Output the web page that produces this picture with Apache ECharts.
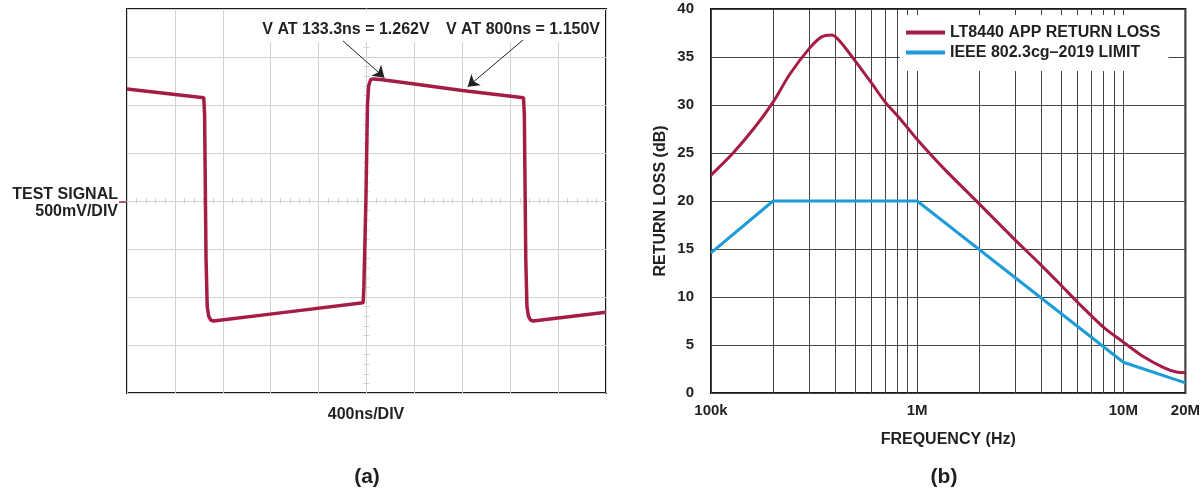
<!DOCTYPE html>
<html>
<head>
<meta charset="utf-8">
<script src="https://cdn.jsdelivr.net/npm/echarts@6/dist/echarts.min.js"></script>
<style>
  html, body { margin: 0; padding: 0; background: #fff; }
  #main { width: 1203px; height: 489px; }
</style>
</head>
<body>
<div id="main"></div>
<script>
// (a) scope trace: time from screen centre (ns), volts
var timeNs = [-2000, -1359, -1352, -1340, -1330, -1318, -1300, -1277, -650, -28, -22, -5, 8, 18, 35, 60, 133.3, 400, 800, 1311, 1318, 1330, 1340, 1352, 1370, 1392, 2000];
var volts  = [1.167, 1.076, 0.9, -0.6, -1.1, -1.2, -1.24, -1.25, -1.155, -1.06, -0.9, 0.0, 1.0, 1.2, 1.265, 1.272, 1.262, 1.219, 1.150, 1.076, 0.9, -0.6, -1.1, -1.2, -1.24, -1.25, -1.16];

// (b) return loss
var lossFreq = [1e5, 1.28e5, 1.62e5, 2e5, 2.41e5, 3e5, 3.44e5, 3.85e5, 4.2e5, 5e5, 6e5, 7e5, 8e5, 9e5, 1e6, 1.33e6, 2e6, 3e6, 4e6, 5e6, 6e6, 8e6, 1e7, 1.26e7, 1.55e7, 1.81e7, 2e7];
var lossDb   = [22.7, 25.0, 27.6, 30.3, 33.2, 35.9, 37.1, 37.3, 36.7, 34.6, 32.3, 30.3, 28.9, 27.6, 26.4, 23.5, 19.7, 15.9, 13.3, 11.2, 9.45, 6.86, 5.3, 3.74, 2.7, 2.18, 2.12];
var limitFreq = [1e5, 2e5, 1e6, 1e7, 2e7];
var limitDb   = [14.6, 20, 20, 3.2, 1.05];
var minorFreqs = [2e5, 3e5, 4e5, 5e5, 6e5, 7e5, 8e5, 9e5, 2e6, 3e6, 4e6, 5e6, 6e6, 7e6, 8e6, 9e6];

var RED = '#a51c45';
var BLUE = '#1e9cd7';
var TXT = '#231f20';
var FONT = '"Liberation Sans", Arial, sans-serif';
var scopeGrid = '#d2d2d2';

var myChart = echarts.init(document.getElementById('main'));

function zip(xs, ys) {
    return xs.map(function(x, i) { return [x, ys[i]]; });
}

function freqLabel(v) {
    if (v >= 1e6) return Math.round(v / 1e6) + 'M';
    return Math.round(v / 1e3) + 'k';
}

// scope centre-line axis (ticks only, no labels)
function scopeAxis(extra) {
    var ax = {
        gridIndex: 0,
        type: 'value',
        axisLine: { onZero: true, lineStyle: { color: scopeGrid, width: 1 } },
        axisTick: { show: false, inside: true },
        minorTick: { show: true, splitNumber: 5, length: 3, lineStyle: { color: scopeGrid } },
        axisLabel: { show: false },
        splitLine: { show: false }
    };
    return Object.assign(ax, extra);
}

function label(txt, x, y, size, align) {
    return {
        type: 'text', x: x, y: y, z: 10,
        style: { text: txt, fill: TXT, font: 'bold ' + size + 'px ' + FONT, align: align || 'center', verticalAlign: 'middle' }
    };
}

var option = {
    animation: false,
    textStyle: { fontFamily: FONT },
    grid: [
        { left: 127, top: 9, width: 479, height: 384, show: true, borderColor: '#1a1a1a', borderWidth: 2 },
        { left: 711, top: 9, width: 481, height: 384, show: true, borderColor: '#1a1a1a', borderWidth: 2 }
    ],
    legend: {
        data: ['LT8440 APP RETURN LOSS', 'IEEE 802.3cg\u20132019 LIMIT'],
        orient: 'vertical',
        left: 900,
        top: 15,
        backgroundColor: '#fff',
        padding: [9, 8, 10, 6],
        itemWidth: 39,
        itemHeight: 4,
        itemGap: 3,
        icon: 'rect',
        textStyle: { fontSize: 16, fontWeight: 'bold', color: TXT, lineHeight: 17, fontFamily: FONT }
    },
    xAxis: [
        scopeAxis({ min: -2000, max: 2000, interval: 400, position: 'bottom',
            splitLine: { show: true, lineStyle: { color: scopeGrid, width: 1 } } }),
        scopeAxis({ min: -2000, max: 2000, interval: 400, position: 'top' }),
        {
            gridIndex: 1,
            type: 'log',
            logBase: 10,
            min: 1e5,
            max: 2e7,
            axisLine: { show: false },
            axisTick: { show: false },
            axisLabel: {
                formatter: freqLabel, color: TXT, fontSize: 15, fontWeight: 'bold', margin: 10,
                showMinLabel: true, showMaxLabel: true
            },
            splitLine: { show: true, lineStyle: { color: '#444', width: 1 } },
            name: 'FREQUENCY (Hz)',
            nameLocation: 'middle',
            nameGap: 39,
            nameTextStyle: { color: TXT, fontSize: 16, fontWeight: 'bold' }
        }
    ],
    yAxis: [
        scopeAxis({ min: -2, max: 2, interval: 0.5, position: 'left',
            splitLine: { show: true, lineStyle: { color: scopeGrid, width: 1 } } }),
        scopeAxis({ min: -2, max: 2, interval: 0.5, position: 'right' }),
        {
            gridIndex: 1,
            type: 'value',
            min: 0,
            max: 40,
            interval: 5,
            axisLine: { show: false },
            axisTick: { show: false },
            axisLabel: { color: TXT, fontSize: 15, fontWeight: 'bold', margin: 17, padding: [5, 0, 0, 0] },
            splitLine: { show: true, lineStyle: { color: '#444', width: 1 } },
            name: 'RETURN LOSS (dB)',
            nameLocation: 'middle',
            nameGap: 42,
            nameTextStyle: { color: TXT, fontSize: 16, fontWeight: 'bold' }
        }
    ],
    series: [
        {
            name: 'TEST SIGNAL',
            type: 'line',
            xAxisIndex: 0,
            yAxisIndex: 0,
            data: zip(timeNs, volts),
            symbol: 'none',
            lineStyle: { color: RED, width: 3.5 },
            z: 3,
            markLine: {
                silent: true,
                z: 12,
                symbol: ['none', 'arrow'],
                symbolSize: 11,
                label: { show: false },
                lineStyle: { color: '#222', width: 1, type: 'solid' },
                data: [
                    [{ coord: [-196, 1.667] }, { coord: [150, 1.285] }],
                    [{ coord: [1307, 1.677] }, { coord: [845, 1.19] }]
                ]
            }
        },
        {
            // minor decade grid lines for the log axis
            type: 'line',
            xAxisIndex: 2,
            yAxisIndex: 2,
            data: [],
            z: 1,
            markLine: {
                silent: true,
                z: 1,
                symbol: 'none',
                label: { show: false },
                lineStyle: { color: '#444', width: 1, type: 'solid' },
                data: minorFreqs.map(function(f) { return { xAxis: f }; })
            }
        },
        {
            name: 'LT8440 APP RETURN LOSS',
            type: 'line',
            xAxisIndex: 2,
            yAxisIndex: 2,
            data: zip(lossFreq, lossDb),
            symbol: 'none',
            smooth: 0.3,
            lineStyle: { color: RED, width: 3 },
            itemStyle: { color: RED },
            z: 3
        },
        {
            name: 'IEEE 802.3cg\u20132019 LIMIT',
            type: 'line',
            xAxisIndex: 2,
            yAxisIndex: 2,
            data: zip(limitFreq, limitDb),
            symbol: 'none',
            lineStyle: { color: BLUE, width: 3 },
            itemStyle: { color: BLUE },
            z: 3
        }
    ],
    graphic: [
        // white patch behind the scope annotations
        { type: 'rect', z: 5, shape: { x: 258, y: 11, width: 346, height: 31 }, style: { fill: '#fff' } },
        { type: 'line', z: 10, shape: { x1: 119, y1: 202, x2: 126, y2: 202 }, style: { stroke: RED, lineWidth: 1.5 } },
        label('TEST SIGNAL', 118, 195, 16, 'right'),
        label('500mV/DIV', 118, 212, 16, 'right'),
        label('V AT 133.3ns = 1.262V', 346, 30, 16),
        label('V AT 800ns = 1.150V', 523, 30, 16),
        label('400ns/DIV', 366, 415, 16),
        label('(a)', 367, 477, 21),
        label('(b)', 944, 477, 21)
    ]
};

myChart.setOption(option);
</script>
</body>
</html>
